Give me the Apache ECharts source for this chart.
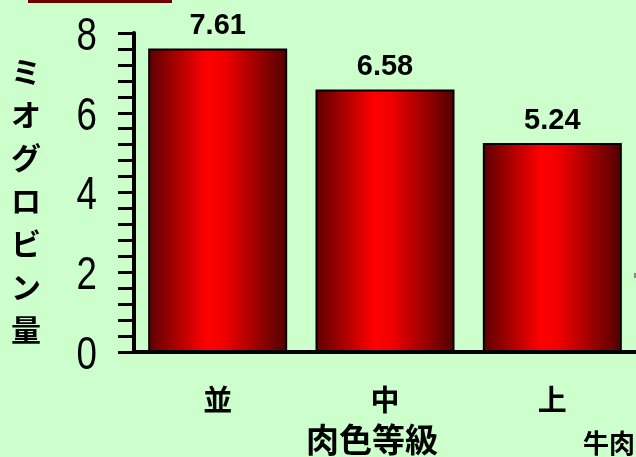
<!DOCTYPE html>
<html>
<head>
<meta charset="utf-8">
<script src="https://cdn.jsdelivr.net/npm/echarts@6/dist/echarts.min.js"></script>
<style>
html,body{margin:0;padding:0;background:#ccffcc;}
#chart{width:636px;height:457px;}
</style>
</head>
<body>
<div id="chart"></div>
<script>
const categories = ['並', '中', '上'];
const values = [7.61, 6.58, 5.24];
const yTicks = [0, 2, 4, 6, 8];
const yAxisTitle = 'ミオグロビン量';
const xAxisTitle = '肉色等級';
const cornerNote = '牛肉';

const chart = echarts.init(document.getElementById('chart'));
const barGradient = new echarts.graphic.LinearGradient(0, 0, 1, 0, [
  {offset: 0, color: '#5c0000'},
  {offset: 0.42, color: '#ff0000'},
  {offset: 0.55, color: '#f00000'},
  {offset: 1, color: '#500000'}
]);
const cjk = '"Noto Sans CJK JP", sans-serif';

const staticGraphics = [
  {
    type: 'text',
    left: 11,
    top: 50,
    style: {
      text: yAxisTitle.split('').join('\n'),
      font: 'bold 30px ' + cjk,
      lineHeight: 43,
      fill: '#000',
      align: 'center'
    }
  },
  {
    type: 'text',
    left: 306,
    top: 423,
    style: {text: xAxisTitle, font: 'bold 33px ' + cjk, fill: '#000'}
  },
  {
    type: 'text',
    left: 583,
    top: 430,
    style: {text: cornerNote, font: 'bold 26px ' + cjk, fill: '#000'}
  },
  {
    type: 'rect',
    shape: {x: 28, y: 0, width: 144, height: 3},
    style: {fill: '#700000'}
  },
  {
    type: 'rect',
    shape: {x: 634, y: 273, width: 2, height: 5},
    style: {fill: '#888888'}
  }
];

chart.setOption({
  backgroundColor: '#ccffcc',
  animation: false,
  grid: {left: 134, right: -5, top: 33, bottom: 105, containLabel: false},
  xAxis: {
    type: 'category',
    data: categories,
    axisLine: {lineStyle: {color: '#000', width: 4}},
    axisTick: {show: false},
    axisLabel: {
      margin: 33,
      color: '#000',
      fontSize: 29,
      fontWeight: 'bold',
      fontFamily: cjk
    }
  },
  yAxis: {
    type: 'value',
    min: yTicks[0],
    max: yTicks[yTicks.length - 1],
    interval: 2,
    splitLine: {show: false},
    axisLine: {show: true, lineStyle: {color: '#000', width: 4}},
    axisTick: {show: true, length: 16, lineStyle: {color: '#000', width: 3}},
    minorTick: {show: true, splitNumber: 5, length: 16, lineStyle: {color: '#000', width: 3}},
    axisLabel: {show: false}
  },
  series: [{
    type: 'bar',
    data: values,
    barWidth: 139,
    itemStyle: {color: barGradient, borderColor: '#000', borderWidth: 2},
    label: {
      show: true,
      position: 'top',
      distance: 8,
      color: '#000',
      fontSize: 29,
      fontWeight: 'bold',
      fontFamily: '"Liberation Sans", Arial, sans-serif',
      formatter: p => p.value.toFixed(2)
    }
  }],
  graphic: staticGraphics
});

// Narrow (condensed) y-axis tick labels, positioned through the axis scale
const labelGraphics = yTicks.map(v => {
  const py = chart.convertToPixel({yAxisIndex: 0}, v);
  return {
    type: 'text',
    x: 97,
    y: py + 4,
    scaleX: 0.78,
    style: {
      text: String(v),
      font: '47px "Liberation Sans", Arial, sans-serif',
      fill: '#000',
      align: 'right',
      verticalAlign: 'middle'
    }
  };
});
chart.setOption({graphic: staticGraphics.concat(labelGraphics)});
</script>
</body>
</html>
